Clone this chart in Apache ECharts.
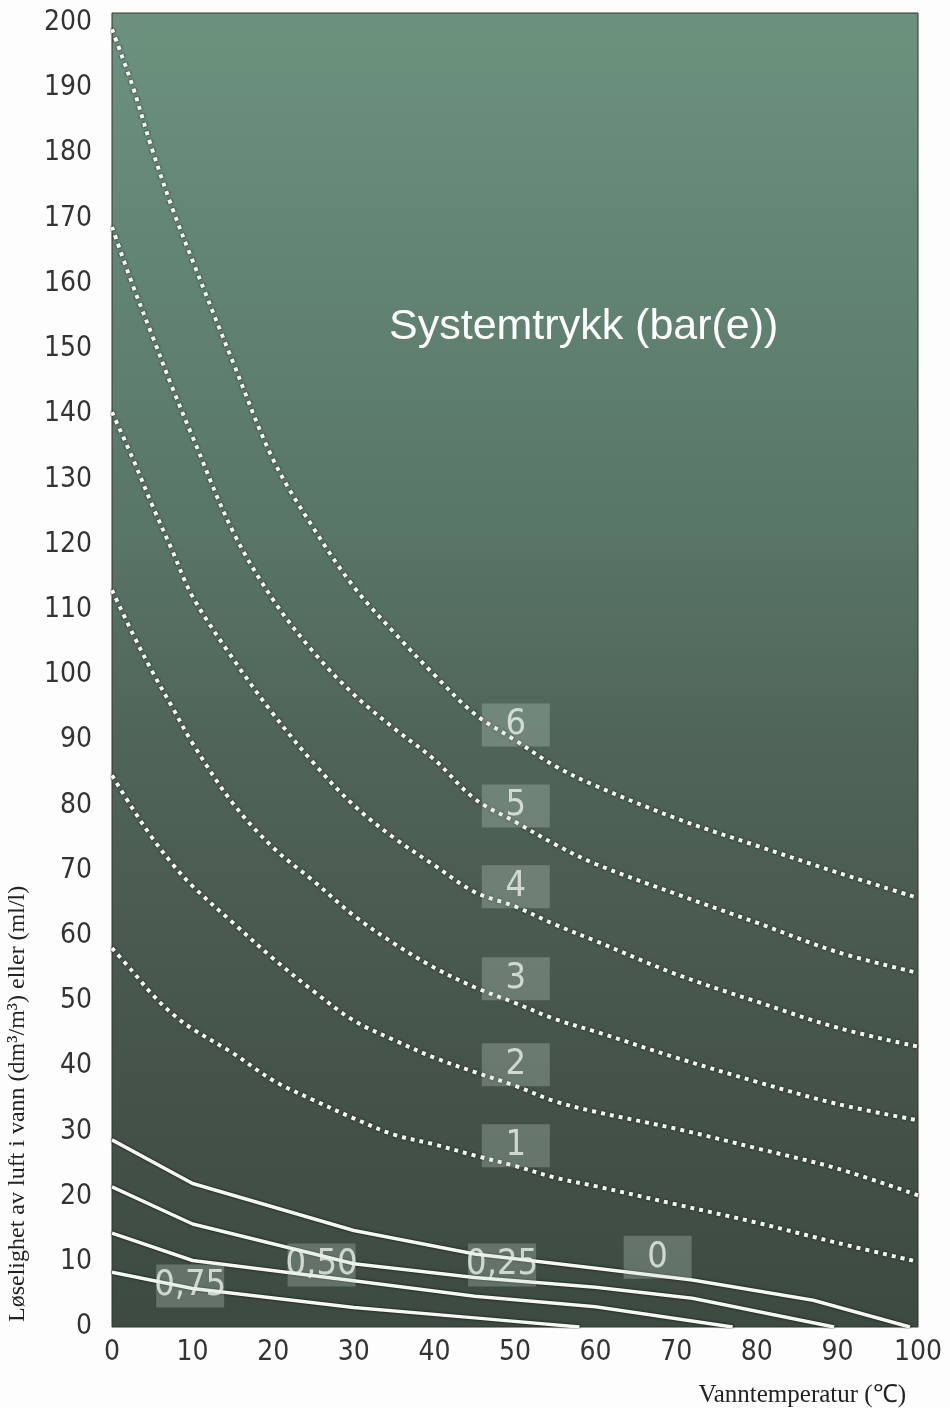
<!DOCTYPE html>
<html>
<head>
<meta charset="utf-8">
<script src="https://cdn.jsdelivr.net/npm/echarts@6/dist/echarts.min.js"></script>
<style>
  html, body { margin: 0; background: #fdfdfd; }
  #box { width: 950px; height: 1408px; }
</style>
</head>
<body>
<div id="box"></div>
<script>
// temperatures (°C) where the dotted curves were read
var temps = [0, 2.5, 5, 7.5, 10, 15, 20, 25, 30, 35, 40, 45, 50, 55, 60, 70, 80, 90, 100];
// dotted curves, system pressure 1..6 bar(e)
var bar6 = [199, 190.5, 180.5, 171.5, 163.5, 148, 133, 122.5, 113.5, 106.5, 100, 94, 90, 86, 83, 78, 73.8, 69.7, 65.8];
var bar5 = [168.7, 160, 152, 144, 136.5, 122, 111.5, 103.5, 97, 91.8, 87, 81, 77.5, 74, 71, 66.4, 62, 57.5, 54.3];
var bar4 = [140.3, 133.4, 126, 119, 112, 102.5, 94, 86.5, 80, 75, 70.8, 66.7, 64.5, 61.7, 59.2, 54.1, 49.9, 45.9, 43];
var bar3 = [113, 106.5, 100.5, 95, 89.5, 80.3, 73.5, 68.4, 63.1, 58.8, 55.1, 52.1, 49.7, 47.2, 45.3, 41.3, 37.6, 34.2, 31.7];
var bar2 = [84.6, 79.6, 75, 71, 67.6, 62, 56.5, 51.5, 47, 44, 41.3, 39.1, 37, 34.6, 33, 30.4, 27.4, 24.3, 20.2];
var bar1 = [58.1, 54.6, 51, 48, 45.7, 42, 37.8, 34.8, 32, 29.5, 28, 26.3, 24.7, 22.9, 21.6, 18.8, 16, 12.9, 10];

// solid curves (0 / 0,25 / 0,50 / 0,75)
var s0x = [0, 10, 30, 45, 60, 72, 87, 99];
var s0y = [28.7, 22, 14.8, 11.2, 9, 7.2, 4.1, 0];
var s25x = [0, 10, 30, 45, 60, 72, 89.6];
var s25y = [21.5, 15.8, 9.7, 7.6, 6.1, 4.4, 0];
var s50x = [0, 10, 30, 45, 60, 77];
var s50y = [14.4, 10.2, 7.1, 4.7, 3.1, 0];
var s75x = [0, 10, 30, 45, 58];
var s75y = [8.4, 5.9, 3.0, 1.4, 0];

// label boxes on the curves
var tagText = ['6', '5', '4', '3', '2', '1', '0', '0,25', '0,50', '0,75'];
var tagX = [50.1, 50.1, 50.1, 50.1, 50.1, 50.1, 67.7, 48.4, 26, 9.7];
var tagY = [92.3, 79.9, 67.5, 53.4, 40.2, 27.8, 10.7, 9.5, 9.5, 6.3];

var xTicks = [0, 100, 10];
var yTicks = [0, 201.5, 10];

var narrow = "'Liberation Sans Narrow', 'DejaVu Sans Condensed', 'Roboto Condensed', sans-serif";

function pts(xs, ys) {
  return xs.map(function (x, i) { return [x, ys[i]]; });
}

var dotted = [bar6, bar5, bar4, bar3, bar2, bar1].map(function (ys) {
  return {
    type: 'line',
    data: pts(temps, ys),
    smooth: 0.35,
    showSymbol: false,
    silent: true,
    lineStyle: {
      color: '#f5f8f3',
      width: 4,
      type: [4, 5],
      shadowColor: 'rgba(0,0,0,0.95)',
      shadowBlur: 2.5
    }
  };
});

var solid = [[s0x, s0y], [s25x, s25y], [s50x, s50y], [s75x, s75y]].map(function (c) {
  return {
    type: 'line',
    data: pts(c[0], c[1]),
    showSymbol: false,
    silent: true,
    lineStyle: {
      color: '#f5f8f3',
      width: 3.5,
      shadowColor: 'rgba(0,0,0,0.95)',
      shadowBlur: 2.5
    }
  };
});

var tags = {
  type: 'scatter',
  symbol: 'rect',
  symbolSize: [68, 43],
  silent: true,
  z: 5,
  data: tagText.map(function (t, i) { return [tagX[i], tagY[i], t]; }),
  itemStyle: { color: 'rgba(200,220,210,0.35)' },
  label: {
    show: true,
    position: 'inside',
    formatter: function (p) { return p.value[2]; },
    color: '#e9f0ea',
    fontSize: 36,
    fontFamily: narrow
  }
};

var chartDom = document.getElementById('box');
var myChart = echarts.init(chartDom);
var option = {
  animation: false,
  title: {
    text: 'Systemtrykk (bar(e))',
    left: 389,
    top: 306,
    padding: 0,
    textStyle: {
      color: '#ffffff',
      fontSize: 43,
      fontWeight: 'normal',
      fontFamily: "'Liberation Sans', Arial, sans-serif"
    }
  },
  grid: {
    left: 112,
    right: 32,
    top: 13,
    bottom: 81,
    show: true,
    borderColor: '#333',
    borderWidth: 1,
    backgroundColor: new echarts.graphic.LinearGradient(0, 0, 0, 1, [
      { offset: 0, color: '#6c927e' },
      { offset: 0.2, color: '#628473' },
      { offset: 0.4, color: '#587566' },
      { offset: 0.55, color: '#506558' },
      { offset: 0.7, color: '#4a5a4f' },
      { offset: 0.85, color: '#435147' },
      { offset: 1, color: '#3c4a41' }
    ])
  },
  xAxis: {
    type: 'value',
    min: xTicks[0],
    max: xTicks[1],
    interval: xTicks[2],
    axisLine: { show: false },
    axisTick: { show: false },
    splitLine: { show: false },
    axisLabel: {
      margin: 12,
      color: '#333',
      fontSize: 28,
      fontFamily: narrow
    }
  },
  yAxis: {
    type: 'value',
    min: yTicks[0],
    max: yTicks[1],
    interval: yTicks[2],
    axisLine: { show: false },
    axisTick: { show: false },
    splitLine: { show: false },
    axisLabel: {
      margin: 20,
      color: '#333',
      fontSize: 28,
      fontFamily: narrow,
      formatter: function (v) { return v % 10 === 0 ? String(v) : ''; }
    }
  },
  graphic: [
    {
      type: 'text',
      x: 18,
      y: 1322,
      rotation: Math.PI / 2,
      style: {
        text: 'Løselighet av luft i vann (dm³/m³) eller (ml/l)',
        font: '24px "Liberation Serif", serif',
        fill: '#222',
        align: 'left',
        verticalAlign: 'middle'
      }
    },
    {
      type: 'text',
      x: 906,
      y: 1395,
      style: {
        text: 'Vanntemperatur (℃)',
        font: '25px "Liberation Serif", serif',
        fill: '#222',
        align: 'right',
        verticalAlign: 'middle'
      }
    }
  ],
  series: dotted.concat(solid).concat([tags])
};
option && myChart.setOption(option);
</script>
</body>
</html>
